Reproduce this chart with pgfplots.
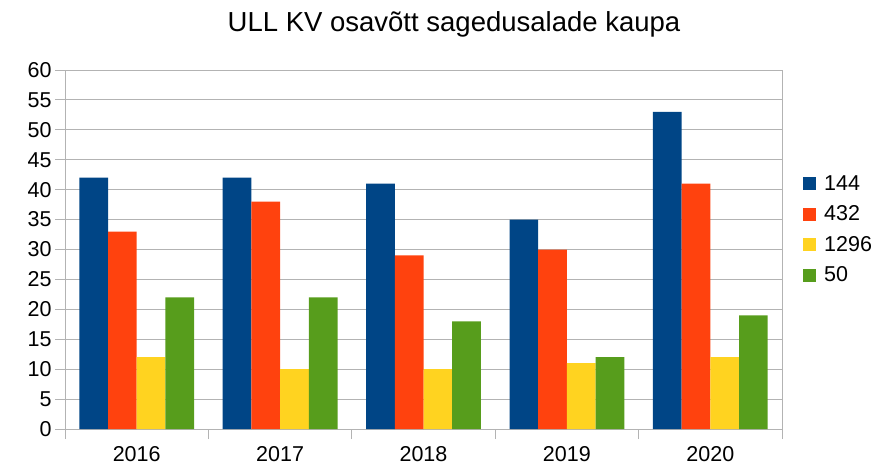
\documentclass[border=0pt]{standalone}
\usepackage{pgfplots}
\pgfplotsset{compat=1.18}
\usepackage{fontspec}
\setmainfont{Liberation Sans}
\definecolor{c1}{HTML}{004586}
\definecolor{c2}{HTML}{FF420E}
\definecolor{c3}{HTML}{FFD320}
\definecolor{c4}{HTML}{579D1C}
\definecolor{gr}{HTML}{B3B3B3}
\begin{document}
\begin{tikzpicture}[x=1pt,y=1pt]
\path[use as bounding box] (-65,-38) rectangle (809,429);
\begin{axis}[
  at={(0,0)}, anchor=south west,
  scale only axis, width=717pt, height=359pt,
  ybar=0pt, bar width=28.7pt,
  xmin=-0.5, xmax=4.5, ymin=0, ymax=60,
  xtick={0,1,2,3,4}, xticklabels={2016,2017,2018,2019,2020},
  major x tick style={draw=none},
  minor xtick={-0.5,0.5,1.5,2.5,3.5,4.5},
  minor x tick style={gr, line width=1pt},
  minor tick length=10pt,
  ytick={0,5,...,60},
  major tick length=10pt,
  tick align=outside,
  tick pos=left,
  y tick style={gr, line width=1pt},
  ymajorgrids, grid style={gr, line width=1pt},
  axis line style={gr, line width=1pt},
  /pgf/number format/assume math mode=true,
  tick label style={font=\fontsize{21.5}{25}\selectfont},
  xticklabel style={yshift=-4pt},
  legend style={at={(rel axis cs:1,0.5)}, anchor=west, xshift=18pt, yshift=20pt,
    draw=none, fill=none, font=\fontsize{21.5}{25}\selectfont, row sep=10pt,
    nodes={inner xsep=8pt}},
  legend cell align=left,
  legend image code/.code={\fill[#1] (0pt,-6.5pt) rectangle (13pt,6.5pt);},
]
\addplot[fill=c1, draw=none] coordinates {(0,42) (1,42) (2,41) (3,35) (4,53)};
\addplot[fill=c2, draw=none] coordinates {(0,33) (1,38) (2,29) (3,30) (4,41)};
\addplot[fill=c3, draw=none] coordinates {(0,12) (1,10) (2,10) (3,11) (4,12)};
\addplot[fill=c4, draw=none] coordinates {(0,22) (1,22) (2,18) (3,12) (4,19)};
\legend{144,432,1296,50}
\end{axis}
\node[font=\fontsize{27.5}{32}\selectfont] at (389,405) {ULL KV osavõtt sagedusalade kaupa};
\end{tikzpicture}
\end{document}
